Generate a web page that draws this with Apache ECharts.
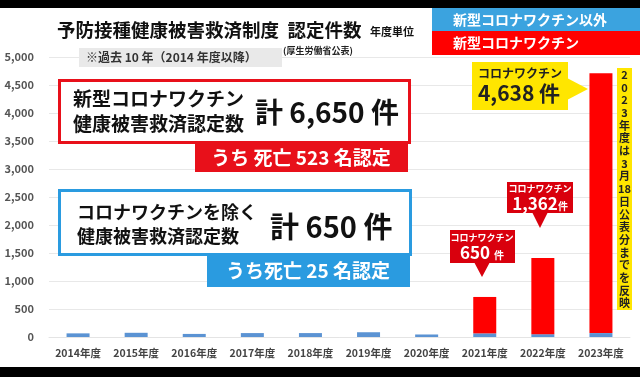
<!DOCTYPE html>
<html>
<head>
<meta charset="utf-8">
<script src="https://cdn.jsdelivr.net/npm/echarts@6/dist/echarts.min.js"></script>
<style>
  html, body { margin: 0; padding: 0; background: #fff; }
  #chart { width: 640px; height: 377px; }
</style>
</head>
<body>
<div id="chart"></div>
<script>
const years = ['2014年度', '2015年度', '2016年度', '2017年度', '2018年度', '2019年度', '2020年度', '2021年度', '2022年度', '2023年度'];
const otherVaccine = [65, 75, 55, 70, 70, 85, 45, 65, 50, 70];
const coronaVaccine = [0, 0, 0, 0, 0, 0, 0, 650, 1362, 4638];
const yTicks = [0, 500, 1000, 1500, 2000, 2500, 3000, 3500, 4000, 4500, 5000];

const FONT = '"Noto Sans CJK JP", "Noto Sans", sans-serif';
const RED = '#e8101a';
const BLUE = '#2a9be0';

const chart = echarts.init(document.getElementById('chart'));

function txt(text, x, y, size, color, opts) {
    return {
        type: 'text',
        z: 20,
        style: Object.assign({
            text: text,
            x: x,
            y: y,
            fill: color,
            font: 'bold ' + size + 'px ' + FONT,
            textAlign: 'left',
            textVerticalAlign: 'middle'
        }, opts || {})
    };
}

function box(x, y, w, h, fill, stroke, lw) {
    return {
        type: 'rect',
        z: 10,
        shape: { x: x, y: y, width: w, height: h },
        style: { fill: fill, stroke: stroke || null, lineWidth: lw || 0 }
    };
}

function tri(points, fill) {
    return { type: 'polygon', z: 10, shape: { points: points }, style: { fill: fill } };
}

const noteChars = ['2', '0', '2', '3', '年', '度', 'は', '3', '月', '18', '日', '公', '表', '分', 'ま', 'で', 'を', '反', '映'];

const option = {
    animation: false,
    backgroundColor: '#fff',
    grid: { left: 49, right: 10, top: 57, bottom: 40 },
    xAxis: {
        type: 'category',
        data: years,
        axisLine: { lineStyle: { color: '#e4e4e4' } },
        axisTick: { show: false },
        axisLabel: { interval: 0, color: '#444', fontFamily: FONT, fontWeight: 'bold', fontSize: 10.5, margin: 11 }
    },
    yAxis: {
        type: 'value',
        min: yTicks[0],
        max: yTicks[yTicks.length - 1],
        interval: 500,
        axisLine: { show: false },
        axisTick: { show: false },
        splitLine: { lineStyle: { color: '#e8e8e8' } },
        axisLabel: {
            color: '#555',
            fontFamily: FONT,
            fontWeight: 'bold',
            fontSize: 11,
            margin: 15,
            formatter: v => v.toLocaleString('en-US')
        }
    },
    series: [
        {
            name: '新型コロナワクチン以外',
            type: 'bar',
            stack: 'total',
            barWidth: 23,
            itemStyle: { color: '#5b93d3' },
            data: otherVaccine
        },
        {
            name: '新型コロナワクチン',
            type: 'bar',
            stack: 'total',
            barWidth: 23,
            itemStyle: { color: '#ff0000' },
            data: coronaVaccine
        }
    ],
    graphic: [
        // black frame bands
        box(0, 0, 640, 8, '#000'),
        box(0, 367, 640, 10, '#000'),

        // title
        txt('予防接種健康被害救済制度  認定件数', 57, 30, 18.5, '#111'),
        txt('年度単位', 370, 32, 11, '#111'),
        txt('(厚生労働省公表)', 283, 51, 9, '#222'),

        // legend boxes
        box(432, 8, 208, 23, '#3ba3df'),
        txt('新型コロナワクチン以外', 453, 19.5, 14, '#fff'),
        box(432, 31, 208, 24, '#ff0000'),
        txt('新型コロナワクチン', 453, 43, 14, '#fff'),

        // note
        box(79, 48, 203, 19, '#e9e9e9'),
        txt('※過去 10 年（2014 年度以降）', 86, 57.5, 12, '#333'),

        // corona total box
        box(59.5, 80.5, 350, 62, '#fff', RED, 3),
        txt('新型コロナワクチン\n健康被害救済認定数', 73, 111, 19, '#111', { lineHeight: 25 }),
        txt('計 6,650 件', 255, 112, 28, '#111'),
        box(195, 143, 213, 29, RED),
        txt('うち 死亡 523 名認定', 301, 158, 19, '#fff', { textAlign: 'center' }),

        // non-corona total box
        box(59.5, 190.5, 351, 64, '#fff', BLUE, 3),
        txt('コロナワクチンを除く\n健康被害救済認定数', 77, 224, 18, '#111', { lineHeight: 24 }),
        txt('計 650 件', 270, 227, 29, '#111'),
        box(207, 255, 203, 32, BLUE),
        txt('うち死亡 25 名認定', 308, 271, 19, '#fff', { textAlign: 'center' }),

        // yellow callout 2023
        box(472, 62, 96, 48, '#ffe600'),
        tri([[567, 78], [588, 89], [567, 100]], '#ffe600'),
        txt('コロナワクチン', 520, 73, 12, '#222', { textAlign: 'center' }),
        txt('4,638 件', 519, 93, 21, '#222', { textAlign: 'center' }),

        // red callout 2022
        box(507, 182, 66, 31, '#d9000d'),
        tri([[532, 212], [540, 228], [548, 212]], '#d9000d'),
        txt('コロナワクチン', 540, 189, 9, '#fff', { textAlign: 'center' }),
        txt('1,362', 535, 204, 17, '#fff', { textAlign: 'center' }),
        txt('件', 563, 206, 10, '#fff', { textAlign: 'center' }),

        // red callout 2021
        box(450, 230, 65, 33, '#d9000d'),
        tri([[474, 262], [482, 277], [490, 262]], '#d9000d'),
        txt('コロナワクチン', 482, 238, 9, '#fff', { textAlign: 'center' }),
        txt('650', 475, 253, 17, '#fff', { textAlign: 'center' }),
        txt('件', 499, 255, 10, '#fff', { textAlign: 'center' }),

        // vertical note
        box(617, 68, 15, 242, '#ffe600'),
        txt(noteChars.join('\n'), 624.5, 189, 11, '#222', { textAlign: 'center', lineHeight: 12.7 })
    ]
};

chart.setOption(option);
</script>
</body>
</html>
